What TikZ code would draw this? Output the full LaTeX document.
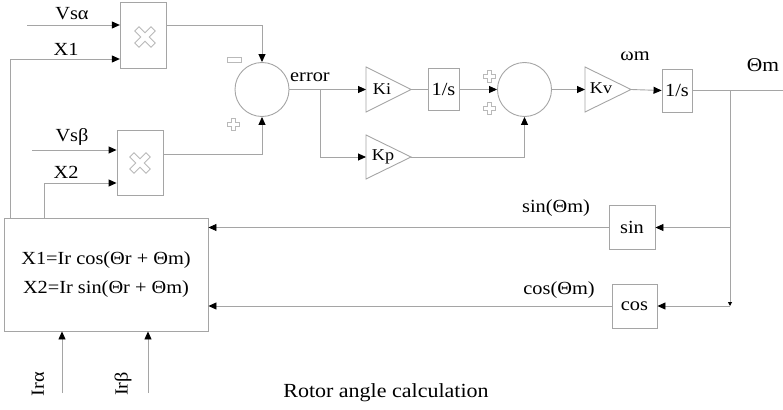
\documentclass[tikz,border=0pt]{standalone}
\usepackage{fontspec}
\setmainfont{Liberation Serif}[FakeStretch=1.1]
\usetikzlibrary{arrows.meta}
\definecolor{linegray}{RGB}{165,165,165}
\definecolor{symgray}{RGB}{185,185,185}
\begin{document}
\begin{tikzpicture}[x=1pt,y=-1pt,
  ln/.style={draw=linegray, line width=0.9pt},
  arr/.style={ln, -{Triangle[length=8pt,width=7pt,color=black]}},
  sarr/.style={ln, -{Triangle[length=4pt,width=4pt,color=black]}},
  blk/.style={draw=linegray, line width=0.9pt, fill=white, inner sep=0pt, font=\fontsize{18.5}{21}\selectfont},
  sumc/.style={circle, draw=linegray, line width=0.9pt, minimum size=54pt, inner sep=0pt},
  lbl/.style={inner sep=0pt, font=\fontsize{18.5}{21}\selectfont},
  klbl/.style={inner sep=0pt, font=\fontsize{16.5}{19}\selectfont},
  sym/.style={draw=symgray, line width=0.8pt, fill=white},
]
\useasboundingbox (0,0) rectangle (783,409);

% symbol helpers: outlined plus sign and cross
\def\plusshape#1{(#1)+(-2,-6) -- +(2,-6) -- +(2,-2) -- +(6,-2) -- +(6,2) -- +(2,2) -- +(2,6) -- +(-2,6) -- +(-2,2) -- +(-6,2) -- +(-6,-2) -- +(-2,-2) -- cycle}
\def\crossshape#1{(#1) +(-3,-11.5) -- +(3,-11.5) -- +(3,-3) -- +(11.5,-3) -- +(11.5,3) -- +(3,3) -- +(3,11.5) -- +(-3,11.5) -- +(-3,3) -- +(-11.5,3) -- +(-11.5,-3) -- +(-3,-3) -- cycle}

% blocks
\node[blk, minimum width=46pt, minimum height=66pt] (m1) at (143.3,35.5) {};
\node[blk, minimum width=46pt, minimum height=65pt] (m2) at (140,162.5) {};
\node[sumc] (s1) at (262,89.5) {};
\node[sumc] (s2) at (524.5,89.5) {};
\node[blk, minimum width=31pt, minimum height=42pt] (o1) at (443.5,89.5) {1/s};
\node[blk, minimum width=30pt, minimum height=43pt] (o2) at (677,90.5) {1/s};
\node[blk, minimum width=46pt, minimum height=44pt] (sinb) at (632,227.5) {sin};
\node[blk, minimum width=45pt, minimum height=44pt] (cosb) at (634.5,306) {cos};
\node[blk, minimum width=204pt, minimum height=113pt, align=center, font=\fontsize{18.5}{29}\selectfont] (big) at (106,274.5)
  {X1=Ir cos(Θr + Θm)\\X2=Ir sin(Θr + Θm)};

% gains (triangles)
\draw[ln] (366,67) -- (411,89.5) -- (366,112) -- cycle;
\coordinate (kiL) at (366,89.5); \coordinate (kiR) at (411,89.5);
\node[klbl] (ki) at (382,89.5) {Ki};
\draw[ln] (366,135) -- (411,157) -- (366,179) -- cycle;
\coordinate (kpL) at (366,157); \coordinate (kpR) at (411,157);
\node[klbl] (kp) at (383,157) {Kp};
\draw[ln] (585,67) -- (631,89.5) -- (585,112) -- cycle;
\coordinate (kvL) at (585,89.5); \coordinate (kvR) at (631,89.5);
\node[klbl] (kv) at (601,88) {Kv};

% multiplication crosses
\draw[sym, rotate around={45:(145,37)}] \crossshape{145,37};
\draw[sym, rotate around={45:(140,163)}] \crossshape{140,163};

% signs
\draw[sym] (227,57.5) rectangle (241,62);
\draw[sym] \plusshape{233,124};
\draw[sym] \plusshape{489,76};
\draw[sym] \plusshape{489,108};

% inputs
\coordinate (vsa) at (27,25);
\coordinate (x1c) at (10,59);
\coordinate (vsb) at (32,150);
\coordinate (x2c) at (44,183);
\draw[arr] (vsa) -- (vsa -| m1.west);
\draw[arr] (x1c |- big.north) -- (x1c) -- (x1c -| m1.west);
\draw[arr] (vsb) -- (vsb -| m2.west);
\draw[arr] (x2c |- big.north) -- (x2c) -- (x2c -| m2.west);
\node[lbl] (lvsa) at (72,14) {Vsα};
\node[lbl] (lx1) at (66,49) {X1};
\node[lbl] (lvsb) at (72,137) {Vsβ};
\node[lbl] (lx2) at (66,172) {X2};

% products to sum
\draw[arr] (m1.east |- vsa) -| (s1.north);
\coordinate (m2o) at (163,154);
\draw[arr] (m2o) -| (s1.south);

% error path
\coordinate (br1) at (320,89.5);
\draw[arr] (s1.east) -- (kiL);
\draw[arr] (br1) |- (kpL);
\node[lbl, anchor=west] (lerr) at (290,77) {error};
\draw[ln] (kiR) -- (o1.west);
\draw[arr] (o1.east) -- (s2.west);
\draw[arr] (kpR) -| (s2.south);
\draw[arr] (s2.east) -- (kvL);
\draw[arr] (kvR) -- (o2.west);
\node[lbl] (lw) at (635,56) {ωm};

% output and feedback
\coordinate (outE) at (783,90.5);
\coordinate (br2) at (730,90.5);
\coordinate (brB) at (730,306);
\draw[ln] (o2.east) -- (outE);
\node[lbl, font=\fontsize{19.5}{22}\selectfont] (lth) at (763,65) {Θm};
\draw[sarr] (br2) -- (brB);
\draw[arr] (br2 |- sinb.east) -- (sinb.east);
\draw[arr] (brB) -- (cosb.east);
\draw[arr] (sinb.west) -- (sinb.west -| big.east);
\draw[arr] (cosb.west) -- (cosb.west -| big.east);
\node[lbl] (lsin) at (556,208) {sin(Θm)};
\node[lbl] (lcos) at (559,290) {cos(Θm)};

% currents
\coordinate (ira) at (62,393);
\coordinate (irb) at (148,393);
\draw[arr] (ira) -- (ira |- big.south);
\draw[arr] (irb) -- (irb |- big.south);
\node[lbl, rotate=90] (lira) at (38,384) {Irα};
\node[lbl, rotate=90] (lirb) at (123,384) {Irβ};

\node[inner sep=0pt, font=\fontsize{20}{22}\selectfont] (title) at (386,393) {Rotor angle calculation};
\end{tikzpicture}
\end{document}
